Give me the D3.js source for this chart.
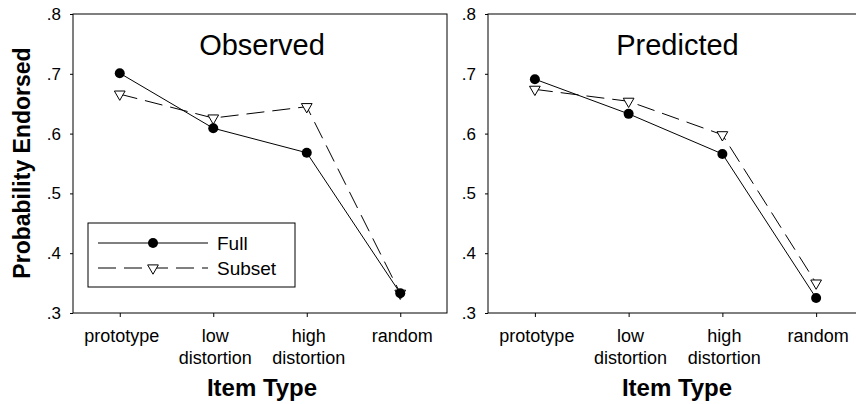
<!DOCTYPE html>
<html>
<head>
<meta charset="utf-8">
<script src="https://cdn.jsdelivr.net/npm/d3@7"></script>
<style>
  body { margin: 0; background: #fff; }
  text { font-family: "Liberation Sans", Arial, sans-serif; fill: #000; }
</style>
</head>
<body>
<svg width="856" height="404"></svg>
<script>
const categories = ['prototype', 'low distortion', 'high distortion', 'random']
const yTicks = [.3, .4, .5, .6, .7, .8]
const observedFull = [0.701, 0.609, 0.568, 0.333]
const observedSubset = [0.666, 0.626, 0.645, 0.333]
const predictedFull = [0.691, 0.633, 0.566, 0.325]
const predictedSubset = [0.674, 0.654, 0.598, 0.350]

const svg = d3.select('svg')

const panel = (left, right, title, full, subset, showLegend) => {
  const top = 14, bottom = 313
  const xScale = d3.scalePoint().domain(categories).range([left, right]).padding(0.5)
  const yScale = d3.scaleLinear().domain([.3, .8]).range([bottom, top])
  const g = svg.append('g')

  // frame
  g.append('rect')
    .attr('x', left).attr('y', top)
    .attr('width', right - left).attr('height', bottom - top)
    .attr('fill', 'none').attr('stroke', '#000').attr('stroke-width', 1)

  const yAxis = g.append('g')
    .attr('transform', `translate(${left},0)`)
    .call(d3.axisLeft(yScale).tickValues(yTicks)
      .tickFormat(d => d3.format('.1f')(d).replace(/^0/, ''))
      .tickSize(3).tickPadding(9))
  yAxis.select('.domain').remove()
  yAxis.selectAll('text').style('font-size', '17px')

  const xAxis = g.append('g')
    .attr('transform', `translate(0,${bottom})`)
    .call(d3.axisBottom(xScale).tickSize(4).tickFormat(''))
  xAxis.select('.domain').remove()

  categories.forEach(c => {
    const words = c.split(' ')
    const t = g.append('text')
      .attr('text-anchor', 'middle')
      .style('font-size', '18px')
    words.forEach((w, i) => {
      t.append('tspan').attr('x', xScale(c) + 2).attr('y', 342 + i * 22).text(w)
    })
  })

  g.append('text')
    .attr('x', (left + right) / 2 + 2).attr('y', 55)
    .attr('text-anchor', 'middle')
    .style('font-size', '29px')
    .text(title)

  g.append('text')
    .attr('x', left + 189).attr('y', 396)
    .attr('text-anchor', 'middle')
    .style('font-size', '24px').style('font-weight', 'bold')
    .text('Item Type')

  const line = d3.line().x((d, i) => xScale(categories[i])).y(d => yScale(d))

  g.append('path').datum(subset)
    .attr('d', line).attr('fill', 'none')
    .attr('stroke', '#000').attr('stroke-width', 1)
    .attr('stroke-dasharray', '18,8')
  g.append('path').datum(full)
    .attr('d', line).attr('fill', 'none')
    .attr('stroke', '#000').attr('stroke-width', 1)

  const tri = d3.symbol().type(d3.symbolTriangle).size(50)
  g.selectAll('.tri').data(subset).enter().append('path')
    .attr('transform', (d, i) => `translate(${xScale(categories[i])},${yScale(d)}) rotate(180)`)
    .attr('d', tri).attr('fill', '#fff').attr('stroke', '#000').attr('stroke-width', 1)
  g.selectAll('.dot').data(full).enter().append('circle')
    .attr('cx', (d, i) => xScale(categories[i])).attr('cy', d => yScale(d))
    .attr('r', 5).attr('fill', '#000')

  if (showLegend) {
    const lg = g.append('g')
    lg.append('rect').attr('x', 88).attr('y', 223).attr('width', 207).attr('height', 64)
      .attr('fill', '#fff').attr('stroke', '#000').attr('stroke-width', 1)
    lg.append('line').attr('x1', 98).attr('x2', 208).attr('y1', 243).attr('y2', 243)
      .attr('stroke', '#000')
    lg.append('circle').attr('cx', 153).attr('cy', 243).attr('r', 5).attr('fill', '#000')
    lg.append('line').attr('x1', 98).attr('x2', 208).attr('y1', 268).attr('y2', 268)
      .attr('stroke', '#000').attr('stroke-dasharray', '18,8')
    lg.append('path').attr('transform', 'translate(153,268) rotate(180)')
      .attr('d', tri).attr('fill', '#fff').attr('stroke', '#000')
    lg.append('text').attr('x', 217).attr('y', 250).style('font-size', '19px').text('Full')
    lg.append('text').attr('x', 217).attr('y', 275).style('font-size', '19px').text('Subset')
  }
}

panel(73, 447, 'Observed', observedFull, observedSubset, true)
panel(488, 863, 'Predicted', predictedFull, predictedSubset, false)

svg.append('text')
  .attr('transform', 'translate(30,163) rotate(-90)')
  .attr('text-anchor', 'middle')
  .style('font-size', '23px').style('font-weight', 'bold')
  .text('Probability Endorsed')
</script>
</body>
</html>
